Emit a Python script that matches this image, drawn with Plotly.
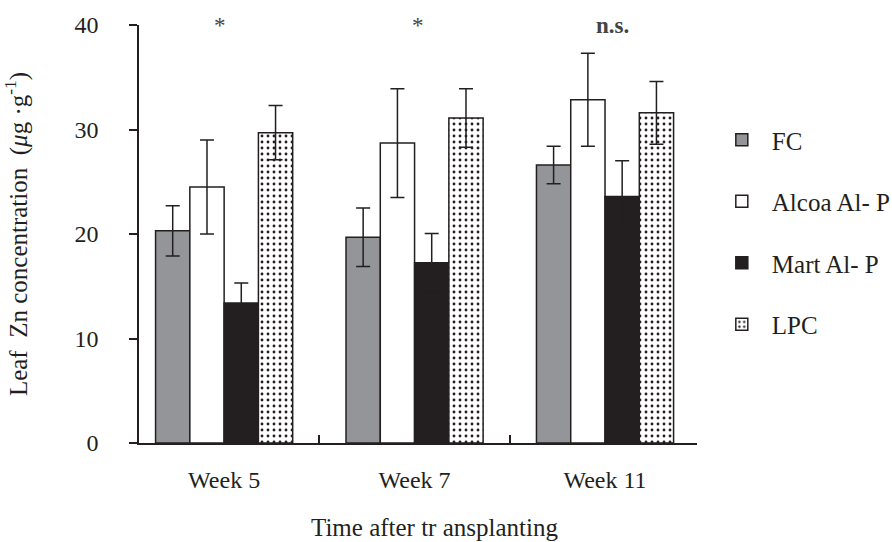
import plotly.graph_objects as go

weeks = ["Week 5", "Week 7", "Week 11"]
series_names = ["FC", "Alcoa Al- P", "Mart Al- P", "LPC"]
fc = [20.3, 19.7, 26.6]
fc_err = [2.4, 2.8, 1.8]
alcoa = [24.5, 28.7, 32.85]
alcoa_err = [4.5, 5.2, 4.45]
mart = [13.4, 17.25, 23.6]
mart_err = [1.9, 2.8, 3.4]
lpc = [29.7, 31.1, 31.6]
lpc_err = [2.6, 2.8, 3.0]
signif = ["*", "*", "<b>n.s.</b>"]
x_title = "Time after tr ansplanting"

INK = "#231f20"
FONT = "Liberation Serif"

values = [fc, alcoa, mart, lpc]
errors = [fc_err, alcoa_err, mart_err, lpc_err]
fills = ["#939598", "#ffffff", INK, "#ffffff"]

fig = go.Figure()
for i, (name, v, e, c) in enumerate(zip(series_names, values, errors, fills)):
    marker = dict(color=c, line=dict(color=INK, width=1.5))
    if name == "LPC":
        marker["pattern"] = dict(shape=".", fgcolor=INK, bgcolor="#ffffff",
                                 size=6, solidity=0.18, fillmode="replace")
    fig.add_trace(go.Bar(
        x=weeks, y=v, name=name, marker=marker,
        legendgroup=f"g{i}",
        error_y=dict(type="data", array=e, visible=True, color=INK,
                     thickness=1.5, width=7),
    ))

label_shift = [-4, 3, 7]
for w, s, dx in zip(weeks, signif, label_shift):
    fig.add_annotation(x=w, y=40, yref="y", text=s, showarrow=False, xshift=dx,
                       yanchor="middle", font=dict(size=23, family=FONT, color="#444"))

# x-axis title (placed slightly right of the plot centre, as in the original)
fig.add_annotation(xref="paper", yref="paper", x=0.53, y=-0.203, text=x_title,
                   showarrow=False, xanchor="center", yanchor="middle",
                   font=dict(size=25, family=FONT, color=INK))

fig.update_layout(
    width=892, height=542,
    margin=dict(l=139, r=195, t=25, b=99, autoexpand=False),
    paper_bgcolor="white", plot_bgcolor="white",
    barmode="group", bargap=0.28, bargroupgap=0,
    font=dict(family=FONT, size=24, color=INK),
    legend=dict(xref="container", yref="container", x=0.798, y=0.784,
                xanchor="left", yanchor="top",
                traceorder="grouped", tracegroupgap=26, itemwidth=50,
                font=dict(size=25, family=FONT, color=INK)),
    xaxis=dict(
        type="category", range=[-0.447, 2.483], automargin=False,
        showline=True, linecolor=INK, linewidth=1.5,
        ticks="inside", tickson="boundaries", ticklen=8, tickcolor=INK,
        tickwidth=1.5, showgrid=False, ticklabelstandoff=14,
        tickfont=dict(size=24, family=FONT, color=INK),
    ),
    yaxis=dict(
        range=[0, 40], tickvals=[0, 10, 20, 30, 40], automargin=False,
        showline=True, linecolor=INK, linewidth=1.5,
        ticks="outside", ticklen=8, tickcolor=INK, tickwidth=1.5,
        showgrid=False, zeroline=False, ticklabelstandoff=26,
        tickfont=dict(size=24, family=FONT, color=INK),
        title=dict(text="Leaf\u00a0 Zn concentration\u00a0 (<i>μ</i>g ·g<sup>-1</sup>)", standoff=42,
                   font=dict(size=25, family=FONT, color=INK)),
    ),
)

fig.write_html("out.html", config={"displayModeBar": False},
               post_script="document.body.style.margin='0';")
